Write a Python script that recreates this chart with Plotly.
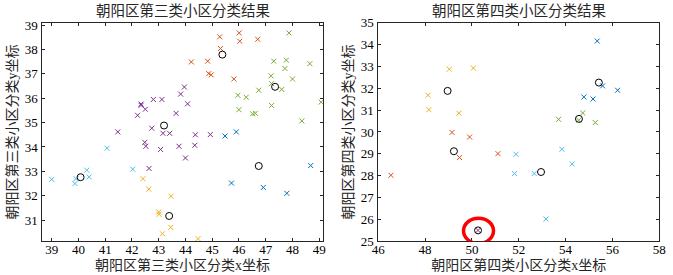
import plotly.graph_objects as go

# ---------------- Left panel: 朝阳区第三类小区 ----------------
c3_orange_x = [45.28, 46.01, 46.03, 46.70, 45.31, 44.22, 44.83, 44.87, 44.96, 45.81]
c3_orange_y = [38.52, 38.68, 38.34, 38.42, 38.04, 37.49, 37.52, 37.01, 36.96, 36.79]
c3_green_x = [47.87, 47.30, 47.77, 48.65, 47.72, 47.20, 48.00, 47.22, 47.60, 46.74, 45.96, 46.27, 46.00, 47.22, 46.51, 46.61, 49.07, 48.35]
c3_green_y = [38.68, 37.52, 37.56, 37.42, 37.22, 36.92, 36.79, 36.60, 36.36, 36.33, 36.12, 36.04, 35.53, 35.70, 35.36, 35.38, 35.84, 35.07]
c3_purple_x = [43.96, 43.82, 44.08, 42.34, 42.34, 42.50, 42.21, 42.80, 43.12, 43.65, 41.47, 42.74, 43.16, 43.41, 44.37, 44.93, 42.48, 42.52, 43.07, 43.76, 44.35, 44.00, 42.64]
c3_purple_y = [36.46, 36.17, 35.77, 35.76, 35.71, 35.55, 35.30, 35.95, 35.95, 35.38, 34.62, 34.77, 34.56, 34.56, 34.50, 34.51, 34.19, 34.03, 33.90, 34.03, 34.07, 33.55, 33.12]
c3_blue_x = [45.48, 45.90, 48.68, 45.72, 46.91, 47.79]
c3_blue_y = [34.45, 34.62, 33.24, 32.52, 32.34, 32.10]
c3_cyan_x = [41.07, 39.00, 40.31, 39.87, 39.91, 40.40, 42.03]
c3_cyan_y = [33.95, 32.67, 33.05, 32.50, 32.70, 32.77, 33.09]
c3_yellow_x = [42.41, 42.63, 43.46, 43.00, 43.01, 43.45, 43.14, 44.47]
c3_yellow_y = [32.70, 32.27, 31.98, 31.33, 31.24, 30.70, 30.44, 30.24]
c3_center_x = [45.38, 47.35, 43.20, 46.74, 40.08, 43.39]
c3_center_y = [37.79, 36.47, 34.88, 33.22, 32.76, 31.17]

# ---------------- Right panel: 朝阳区第四类小区 ----------------
c4_blue_x = [55.35, 55.58, 56.22, 54.78, 55.17]
c4_blue_y = [34.16, 32.11, 31.91, 31.60, 31.51]
c4_green_x = [53.70, 54.73, 54.56, 55.27]
c4_green_y = [30.58, 30.87, 30.54, 30.43]
c4_yellow_x = [49.03, 50.06, 48.12, 48.16, 49.44]
c4_yellow_y = [32.87, 32.92, 31.68, 31.02, 30.86]
c4_orange_x = [49.15, 49.90, 49.47, 51.11, 46.54]
c4_orange_y = [29.98, 29.77, 28.83, 29.01, 28.02]
c4_cyan_x = [51.88, 51.82, 52.66, 53.84, 54.28, 53.16]
c4_cyan_y = [28.98, 28.10, 28.10, 29.21, 28.54, 26.02]
c4_purple_x = [50.26]
c4_purple_y = [25.50]
c4_center_x = [55.42, 54.57, 48.96, 49.23, 52.95, 50.26]
c4_center_y = [32.26, 30.60, 31.88, 29.12, 28.17, 25.50]

# tick values
left_xticks = [39, 40, 41, 42, 43, 44, 45, 46, 47, 48, 49]
left_yticks = [31, 32, 33, 34, 35, 36, 37, 38, 39]
right_xticks = [46, 48, 50, 52, 54, 56, 58]
right_yticks = [25, 26, 27, 28, 29, 30, 31, 32, 33, 34, 35]

BLUE = "#0072BD"
ORANGE = "#D95319"
YELLOW = "#EDB120"
PURPLE = "#7E2F8E"
GREEN = "#77AC30"
CYAN = "#4DBEEE"

fig = go.Figure()


def add_x(xs, ys, color, xa, ya):
    fig.add_trace(go.Scatter(
        x=xs, y=ys, mode="markers", xaxis=xa, yaxis=ya,
        marker=dict(symbol="x-thin", size=5, line=dict(color=color, width=1)),
        showlegend=False, hoverinfo="x+y"))


def add_centers(xs, ys, xa, ya):
    fig.add_trace(go.Scatter(
        x=xs, y=ys, mode="markers", xaxis=xa, yaxis=ya,
        marker=dict(symbol="circle-open", size=7, color="#000000",
                    line=dict(color="#000000", width=1)),
        showlegend=False, hoverinfo="x+y"))


add_x(c3_orange_x, c3_orange_y, ORANGE, "x", "y")
add_x(c3_green_x, c3_green_y, GREEN, "x", "y")
add_x(c3_purple_x, c3_purple_y, PURPLE, "x", "y")
add_x(c3_blue_x, c3_blue_y, BLUE, "x", "y")
add_x(c3_cyan_x, c3_cyan_y, CYAN, "x", "y")
add_x(c3_yellow_x, c3_yellow_y, YELLOW, "x", "y")
add_centers(c3_center_x, c3_center_y, "x", "y")

add_x(c4_blue_x, c4_blue_y, BLUE, "x2", "y2")
add_x(c4_green_x, c4_green_y, GREEN, "x2", "y2")
add_x(c4_yellow_x, c4_yellow_y, YELLOW, "x2", "y2")
add_x(c4_orange_x, c4_orange_y, ORANGE, "x2", "y2")
add_x(c4_cyan_x, c4_cyan_y, CYAN, "x2", "y2")
add_x(c4_purple_x, c4_purple_y, PURPLE, "x2", "y2")
add_centers(c4_center_x, c4_center_y, "x2", "y2")

# red hand-drawn style highlight around the single purple point
hx, hy = c4_purple_x[0], c4_purple_y[0]
fig.add_shape(type="circle", xref="x2", yref="y2",
              x0=hx - 0.62, x1=hx + 0.66, y0=hy - 0.60, y1=hy + 0.56,
              line=dict(color="#FF0000", width=3.5))

NUM_FONT = dict(family="Liberation Serif, Times New Roman, serif", size=13, color="#000000")
CJK_FONT = dict(family="Liberation Serif, Noto Sans CJK SC, serif", size=14, color="#262626")
TITLE_FONT = dict(family="Liberation Serif, Noto Sans CJK SC, serif", size=14.5, color="#262626")
AX_COLOR = "#262626"

common = dict(showgrid=False, zeroline=False, showline=True, mirror="ticks",
              linecolor=AX_COLOR, linewidth=1, ticks="inside", ticklen=3,
              tickcolor=AX_COLOR, tickwidth=1, tickfont=NUM_FONT, automargin=False,
              ticklabeloverflow="allow")

fig.update_layout(
    width=673, height=275,
    margin=dict(l=0, r=0, t=0, b=0),
    paper_bgcolor="white", plot_bgcolor="white",
    xaxis=dict(domain=[0.0629, 0.4795], range=[38.65, 49.13], tickvals=left_xticks,
               ticklabelstandoff=-4,
               title=dict(text="朝阳区第三类小区分类x坐标", font=CJK_FONT, standoff=1),
               anchor="y", **common),
    yaxis=dict(domain=[0.1225, 0.9175], range=[30.13, 39.1], tickvals=left_yticks,
               ticklabelstandoff=1,
               title=dict(text="朝阳区第三类小区分类y坐标", font=CJK_FONT, standoff=3),
               anchor="x", **common),
    xaxis2=dict(domain=[0.5621, 0.9796], range=[46, 58], tickvals=right_xticks,
                ticklabelstandoff=-4,
                title=dict(text="朝阳区第四类小区分类x坐标", font=CJK_FONT, standoff=1),
                anchor="y2", **common),
    yaxis2=dict(domain=[0.1225, 0.9175], range=[25, 35], tickvals=right_yticks,
                ticklabelstandoff=1,
                title=dict(text="朝阳区第四类小区分类y坐标", font=CJK_FONT, standoff=3),
                anchor="x2", **common),
    annotations=[
        dict(text="朝阳区第三类小区分类结果", xref="paper", yref="paper",
             x=(0.0629 + 0.4795) / 2, y=1 - 10 / 275, xanchor="center", yanchor="middle",
             showarrow=False, font=TITLE_FONT),
        dict(text="朝阳区第四类小区分类结果", xref="paper", yref="paper",
             x=(0.5621 + 0.9796) / 2, y=1 - 10 / 275, xanchor="center", yanchor="middle",
             showarrow=False, font=TITLE_FONT),
    ],
)

# remove the browser's default 8px body margin so the 673x275 figure fits the window exactly
fig.write_html("out.html", config={"displayModeBar": False},
               post_script="document.body.style.margin='0';")
